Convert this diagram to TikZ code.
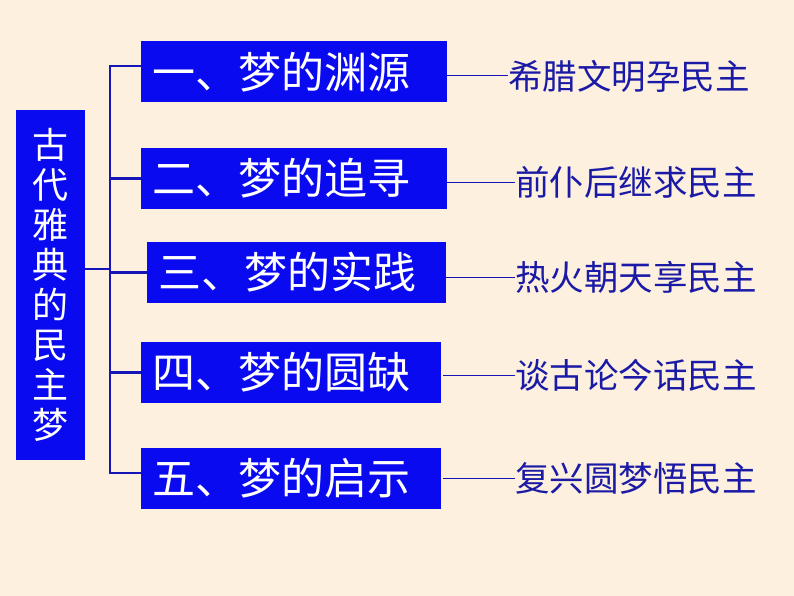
\documentclass[tikz,border=0pt]{standalone}
\usepackage{fontspec}
\newfontfamily\cjk{Noto Sans CJK SC}
\definecolor{bgc}{HTML}{FDF0DE}
\definecolor{boxblue}{HTML}{0A0AF0}
\definecolor{linec}{HTML}{1414B8}
\definecolor{txtc}{HTML}{1A1AA6}
\begin{document}
\begin{tikzpicture}[x=1pt,y=-1pt,
  bluebox/.style={fill=boxblue, draw=none, text=white, anchor=west, align=left,
    inner xsep=11pt, inner ysep=0pt, minimum height=61pt,
    font=\cjk\fontsize{43}{46}\selectfont},
  sidebox/.style={fill=boxblue, draw=none, text=white, align=center,
    minimum width=69pt, minimum height=350pt, inner sep=0pt,
    font=\cjk\fontsize{36}{40}\selectfont},
  rtext/.style={anchor=west, inner sep=0pt, text=txtc,
    font=\cjk\fontsize{34.5}{37}\selectfont},
  trunkline/.style={draw=linec, line width=2.8pt},
  thinline/.style={draw=linec, line width=1pt}]
\useasboundingbox[fill=bgc] (0,0) rectangle (794,596);

\node[sidebox] (L) at (50.5,285) {古\\代\\雅\\典\\的\\民\\主\\梦};

\node[bluebox, text width=284pt] (b1) at (141,72) {一、梦的渊源};
\node[bluebox, text width=284pt] (b2) at (141,178.5) {二、梦的追寻};
\node[bluebox, text width=277pt] (b3) at (147,272.5) {三、梦的实践};
\node[bluebox, text width=278pt] (b4) at (141,372.5) {四、梦的圆缺};
\node[bluebox, text width=278pt] (b5) at (141,478.5) {五、梦的启示};

\node[rtext] (t1) at (508,76) {希腊文明孕民主};
\node[rtext] (t2) at (515,182) {前仆后继求民主};
\node[rtext] (t3) at (515,277) {热火朝天享民主};
\node[rtext] (t4) at (515,375) {谈古论今话民主};
\node[rtext] (t5) at (515,478) {复兴圆梦悟民主};

\coordinate (tk) at (110,0);
\coordinate (top) at ([yshift=6pt]b1.west);
\coordinate (bot) at ([yshift=5.5pt]b5.west);
\coordinate (lb) at ([yshift=16pt]L.east);

\draw[trunkline] (top) -- (tk |- top) -- (tk |- bot) -- (bot);
\draw[trunkline] (lb) -- (tk |- lb);
\draw[trunkline] (tk |- b2.west) -- (b2.west);
\draw[trunkline] (tk |- b3.west) -- (b3.west);
\draw[trunkline] (tk |- b4.west) -- (b4.west);

\draw[thinline] (b1.east |- t1.west) -- (t1.west);
\draw[thinline] (b2.east |- t2.west) -- (t2.west);
\draw[thinline] (b3.east |- t3.west) -- (t3.west);
\draw[thinline] ([xshift=2pt]b4.east |- t4.west) -- (t4.west);
\draw[thinline] ([xshift=2pt]b5.east |- t5.west) -- (t5.west);
\end{tikzpicture}
\end{document}
